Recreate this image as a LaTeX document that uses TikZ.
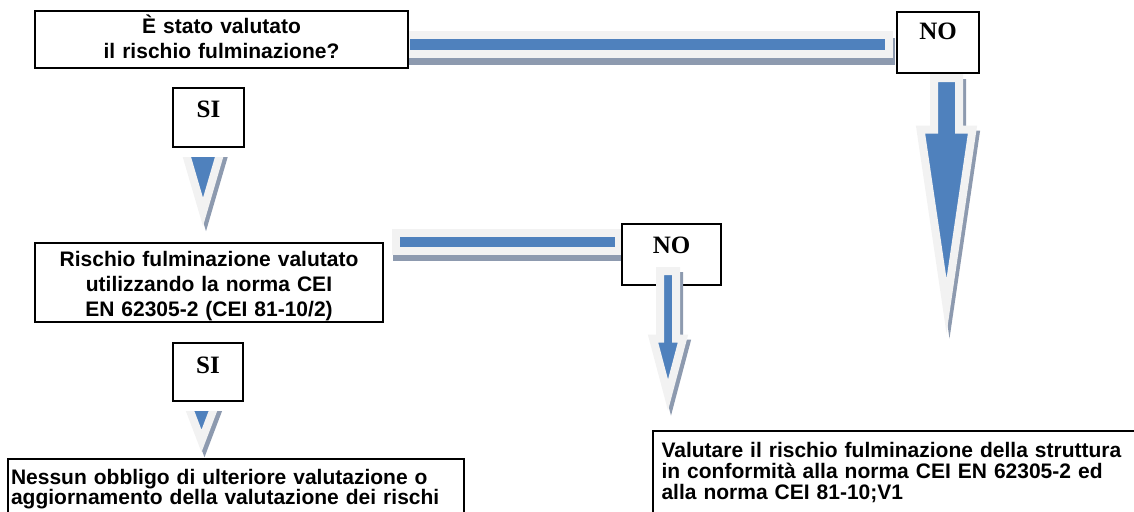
\documentclass[tikz,border=0pt]{standalone}
\usepackage{fontspec}
\setsansfont{Liberation Sans}
\newfontfamily\tagfont{Liberation Serif}

\definecolor{arrowblue}{HTML}{4F81BD}
\definecolor{glow}{HTML}{F2F2F2}
\definecolor{shade}{HTML}{8D9AAF}

% outline of a downward block arrow:
% centre x, shaft top, shaft half width, head base, head half width, tip
\newcommand\downpath[6]{({#1-#3},#2) -- ({#1+#3},#2) -- ({#1+#3},#4) -- ({#1+#5},#4)
  -- (#1,#6) -- ({#1-#5},#4) -- ({#1-#3},#4) -- cycle}
% outline of an arrow head only: centre x, top y, half width at top, tip y
\newcommand\headpath[4]{({#1-#3},#2) -- ({#1+#3},#2) -- (#1,#4) -- cycle}

\begin{document}
\begin{tikzpicture}[x=1pt,y=-1pt,
  box/.style={draw=black, line width=2pt, fill=white, inner xsep=0pt, inner ysep=0pt,
    font=\sffamily\bfseries\fontsize{21}{25}\selectfont},
  tagbox/.style={box, font=\tagfont\bfseries\fontsize{25}{30}\selectfont},
  arrowshade/.style={fill=shade, draw=shade, line width=8pt, line join=miter, miter limit=20},
  arrowbody/.style={fill=arrowblue, draw=glow, line width=8pt, line join=miter, miter limit=20},
  blockshift/.style={shift={(3,5)}},
  barshift/.style={shift={(1.5,6.5)}}]
\useasboundingbox (0,0) rectangle (1134,511);

% horizontal bars towards the NO branches
\path[arrowshade, barshift] (405.5,35.5) rectangle (889,54.5);
\path[arrowbody] (405.5,35.5) rectangle (889,54.5);
\path[arrowshade, barshift] (395.5,232.5) rectangle (619,250.5);
\path[arrowbody] (395.5,232.5) rectangle (619,250.5);

% question and outcome boxes
\node[box, anchor=north, text width=373pt, align=center, text height=23pt, text depth=34pt]
  (q1) at (221.5,10) {È stato valutato\\il rischio fulminazione?};
\node[box, anchor=north, text width=348pt, align=center, text height=23pt, text depth=56pt]
  (q2) at (209,242) {Rischio fulminazione valutato\\utilizzando la norma CEI\\EN 62305-2 (CEI 81-10/2)};
\node[box, anchor=north, inner xsep=3pt, text width=450pt, align=left, text height=25pt, text depth=47pt,
  font=\sffamily\bfseries\fontsize{21}{20}\selectfont]
  (ok) at (236,458) {Nessun obbligo di ulteriore valutazione o\\aggiornamento della valutazione dei rischi};
\node[box, anchor=north, inner xsep=8.5pt, text width=480pt, align=left, text height=26pt, text depth=84pt,
  font=\sffamily\bfseries\fontsize{21}{21}\selectfont]
  (todo) at (901.5,430) {Valutare il rischio fulminazione della struttura\\in conformità alla norma CEI EN 62305-2 ed\\alla norma CEI 81-10;V1};

% answer tags
\node[tagbox, anchor=north, minimum width=82pt, text height=28pt, text depth=33pt] (no1) at (938,11) {NO};
\node[tagbox, anchor=north, minimum width=99pt, text height=29pt, text depth=32pt] (no2) at (671.5,223) {NO};
\node[tagbox, anchor=north, minimum width=71pt, text height=29pt, text depth=30pt] (si1) at (208.5,87) {SI};
\node[tagbox, anchor=north, minimum width=70pt, text height=30pt, text depth=28pt] (si2) at (208,342) {SI};

% downward block arrows
\path[arrowshade, blockshift] \downpath{946.5}{78}{12.5}{129.5}{26}{306};
\path[arrowbody] \downpath{946.5}{78}{12.5}{129.5}{26}{306};
\path[arrowshade, blockshift] \downpath{668}{271}{8}{338.5}{15}{395};
\path[arrowbody] \downpath{668}{271}{8}{338.5}{15}{395};

% arrow heads below the SI tags
\begin{scope}
  \clip (150,157) rectangle (260,240);
  \path[arrowshade, blockshift] \headpath{203}{130}{24}{212};
  \path[arrowbody] \headpath{203}{130}{24}{212};
\end{scope}
\begin{scope}
  \clip (150,411) rectangle (260,480);
  \path[arrowshade, blockshift] \headpath{201.5}{390}{19.4}{441};
  \path[arrowbody] \headpath{201.5}{390}{19.4}{441};
\end{scope}
\end{tikzpicture}
\end{document}
